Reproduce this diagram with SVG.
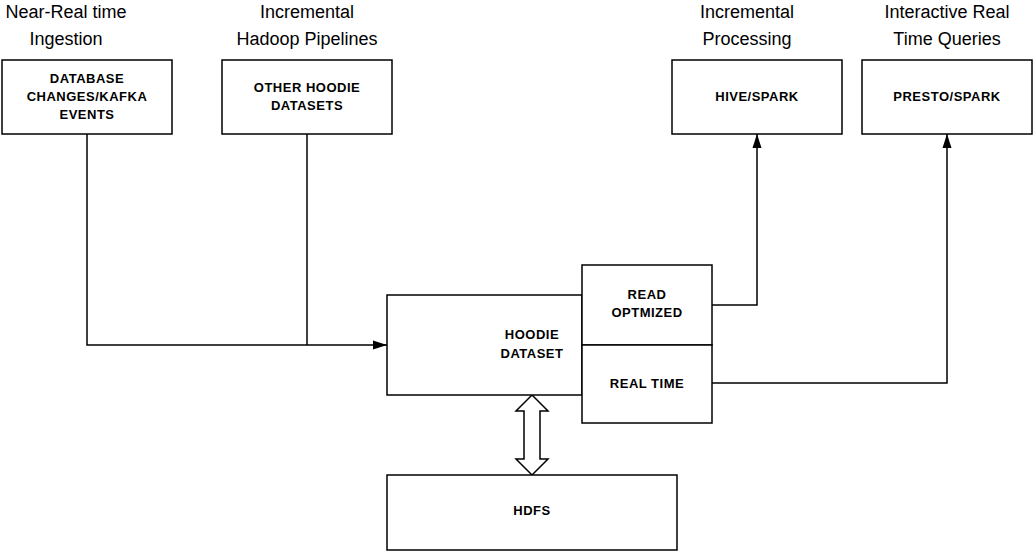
<svg xmlns="http://www.w3.org/2000/svg" width="1033" height="551" viewBox="0 0 1033 551">
<defs>
<style>
.b{fill:#fff;stroke:#000;stroke-width:1.5}
.t{font-family:"Liberation Sans",sans-serif;font-weight:bold;font-size:13px;text-anchor:middle;letter-spacing:0.5px;fill:#000}
.l{font-family:"Liberation Sans",sans-serif;font-size:18px;text-anchor:middle;fill:#000}
.c{fill:none;stroke:#000;stroke-width:1.5}
</style>
<marker id="a" viewBox="0 0 14 10" refX="14" refY="5" markerWidth="14" markerHeight="10" markerUnits="userSpaceOnUse" orient="auto"><path d="M0,0.5 L14,5 L0,9.5 z" fill="#000"/></marker>
</defs>
<rect width="1033" height="551" fill="#fff"/>
<text class="l" x="66" y="18">Near-Real time</text><text class="l" x="66" y="45">Ingestion</text>
<text class="l" x="307" y="18">Incremental</text><text class="l" x="307" y="45">Hadoop Pipelines</text>
<text class="l" x="747" y="18">Incremental</text><text class="l" x="747" y="45">Processing</text>
<text class="l" x="947" y="18">Interactive Real</text><text class="l" x="947" y="45">Time Queries</text>
<g id="connectors">
<path class="c" d="M87,134 V345 H387" marker-end="url(#a)"/>
<path class="c" d="M307,134 V345"/>
<path class="c" d="M712,305 H757 V134" marker-end="url(#a)"/>
<path class="c" d="M712,383 H947 V134" marker-end="url(#a)"/>
<path class="c" d="M532,395 L548,411 H540 V459 H548 L532,475 L516,459 H524 V411 H516 Z" style="fill:#fff"/>
</g>
<g id="db"><rect class="b" x="2" y="60" width="170" height="74"/><text class="t" x="87" y="83">DATABASE</text><text class="t" x="87" y="101">CHANGES/KAFKA</text><text class="t" x="87" y="119">EVENTS</text></g>
<g id="other"><rect class="b" x="222" y="60" width="170" height="74"/><text class="t" x="307" y="92">OTHER HOODIE</text><text class="t" x="307" y="110">DATASETS</text></g>
<g id="hive"><rect class="b" x="672" y="60" width="170" height="74"/><text class="t" x="757" y="101">HIVE/SPARK</text></g>
<g id="presto"><rect class="b" x="862" y="60" width="170" height="74"/><text class="t" x="947" y="101">PRESTO/SPARK</text></g>
<g id="hoodie"><rect class="b" x="387" y="295" width="195" height="100"/><text class="t" x="532" y="339">HOODIE</text><text class="t" x="532" y="358">DATASET</text></g>
<g id="readopt"><rect class="b" x="582" y="265" width="130" height="80"/><text class="t" x="647" y="299">READ</text><text class="t" x="647" y="317">OPTMIZED</text></g>
<g id="realtime"><rect class="b" x="582" y="345" width="130" height="78"/><text class="t" x="647" y="388">REAL TIME</text></g>
<g id="hdfs"><rect class="b" x="387" y="475" width="290" height="75"/><text class="t" x="532" y="515">HDFS</text></g>
</svg>
